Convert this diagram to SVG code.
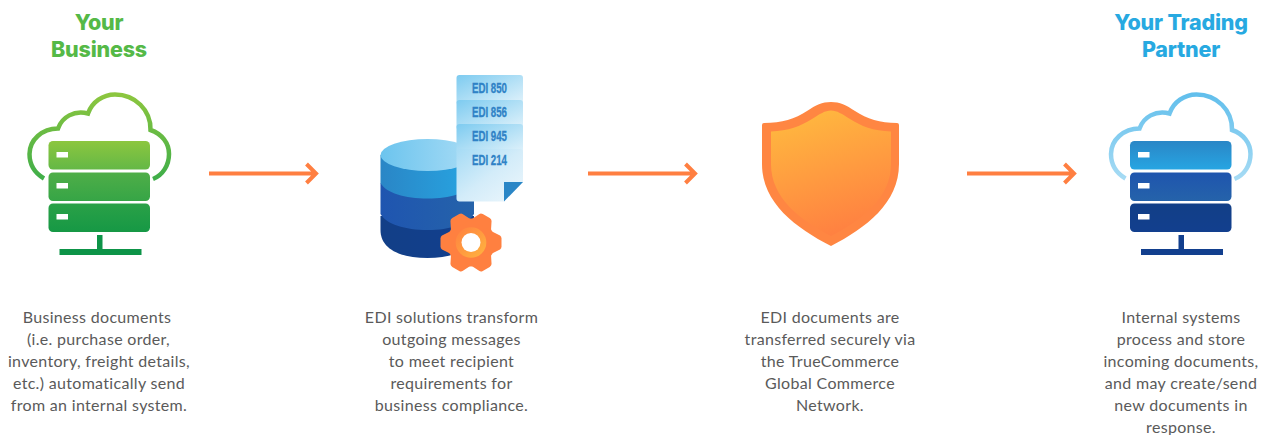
<svg xmlns="http://www.w3.org/2000/svg" width="1262" height="435" viewBox="0 0 1262 435">
<style>
.b{font-family:"Lato","Liberation Sans",sans-serif;font-size:16px;letter-spacing:.32px;fill:#5a5a5a;text-anchor:middle}
.h{font-family:"Inter","Lato",sans-serif;font-size:21.5px;font-weight:800;letter-spacing:-.2px;text-anchor:middle}
.e{font-family:"Liberation Sans","DejaVu Sans",sans-serif;font-size:14px;font-weight:700;fill:#2f82c6;stroke:#2f82c6;stroke-width:.3px;text-anchor:middle}
.a{fill:none;stroke:#ff7f41;stroke-width:4}
.w{fill:#fff}
.c{fill:none;stroke-width:4.5}
</style>
<defs>
<linearGradient id="gc" x1="0" y1="0" x2="0" y2="1"><stop offset="0" stop-color="#8cc63f"/><stop offset="1" stop-color="#3fae49"/></linearGradient>
<linearGradient id="g1" x1="0" y1="0" x2="0" y2="1"><stop offset="0" stop-color="#8cc63f"/><stop offset="1" stop-color="#64b846"/></linearGradient>
<linearGradient id="g2" x1="0" y1="0" x2="0" y2="1"><stop offset="0" stop-color="#4fae48"/><stop offset="1" stop-color="#36a546"/></linearGradient>
<linearGradient id="g3" x1="0" y1="0" x2="0" y2="1"><stop offset="0" stop-color="#2aa147"/><stop offset="1" stop-color="#169845"/></linearGradient>
<linearGradient id="bc" x1="0" y1="0" x2="0" y2="1"><stop offset="0" stop-color="#62bfec"/><stop offset="1" stop-color="#a6dbf4"/></linearGradient>
<linearGradient id="b1" x1="0" y1="0" x2="0" y2="1"><stop offset="0" stop-color="#2a86c6"/><stop offset="1" stop-color="#27a5e2"/></linearGradient>
<linearGradient id="b2" x1="0" y1="0" x2="0" y2="1"><stop offset="0" stop-color="#1f55ae"/><stop offset="1" stop-color="#2563aa"/></linearGradient>
<linearGradient id="b3" x1="0" y1="0" x2="0" y2="1"><stop offset="0" stop-color="#123f87"/><stop offset="1" stop-color="#123f8e"/></linearGradient>
<linearGradient id="d0" x1="0" y1="0" x2="1" y2="0"><stop offset="0" stop-color="#6cc4ee"/><stop offset="1" stop-color="#a8dcf5"/></linearGradient>
<linearGradient id="d1" x1="0" y1="0" x2="1" y2="0"><stop offset="0" stop-color="#2a86c6"/><stop offset="1" stop-color="#27a5e2"/></linearGradient>
<linearGradient id="d2" x1="0" y1="0" x2="1" y2="0"><stop offset="0" stop-color="#1f55b0"/><stop offset="1" stop-color="#2563aa"/></linearGradient>
<linearGradient id="d3" x1="0" y1="0" x2="1" y2="0"><stop offset="0" stop-color="#123f87"/><stop offset="1" stop-color="#123f8e"/></linearGradient>
<linearGradient id="p" x1="0" y1="0" x2="1" y2="1"><stop offset="0" stop-color="#a5dbf5"/><stop offset=".5" stop-color="#d3ecf9"/><stop offset="1" stop-color="#eef7fc"/></linearGradient>
<linearGradient id="pt" x1="0" y1="0" x2="1" y2="1"><stop offset="0" stop-color="#7dcbf0"/><stop offset="1" stop-color="#e3f3fb"/></linearGradient>
<linearGradient id="s" x1=".3" y1="0" x2=".6" y2="1"><stop offset="0" stop-color="#ffb83f"/><stop offset="1" stop-color="#ff7f41"/></linearGradient>
<linearGradient id="r" x1="0" y1="0" x2="1" y2="1"><stop offset="0" stop-color="#ff8040"/><stop offset="1" stop-color="#ffb53f"/></linearGradient>
<path id="cl" d="M44,178.500C33,172 29.500,162 29.500,154C29.500,140 42,128.500 58,128.500C62,117 74,110 88,113.500C92,102 103,94.500 115,94.500C135,94.500 151,110 150.500,130C162,134 169,143 169,154C169,165 163,175 153,179"/>
<path id="t" d="M20,-11.500L29,-7Q30.500,-6 30.500,-4V4Q30.500,6 29,7L20,11.500Z" fill="#ff8040"/>
</defs>

<g id="your-business">
<text class="h" x="99" y="30" fill="#55b947">Your</text>
<text class="h" x="99" y="57" fill="#55b947">Business</text>
<use href="#cl" class="c" stroke="url(#gc)"/>
<rect x="48.500" y="141" width="101.500" height="28.500" rx="4.500" fill="url(#g1)"/>
<rect x="48.500" y="172.500" width="101.500" height="28.500" rx="4.500" fill="url(#g2)"/>
<rect x="48.500" y="203.500" width="101.500" height="28.500" rx="4.500" fill="url(#g3)"/>
<rect class="w" x="56.500" y="152" width="11.500" height="5.500"/>
<rect class="w" x="56.500" y="183" width="11.500" height="5.500"/>
<rect class="w" x="56.500" y="214" width="11.500" height="5.500"/>
<path d="M97,235h5.500v14h39v6h-82v-6h37.500z" fill="#0d9448"/>
<text class="b" x="97" y="322.500">Business documents</text>
<text class="b" x="98.500" y="344.500">(i.e. purchase order,</text>
<text class="b" x="99" y="366.500">inventory, freight details,</text>
<text class="b" x="99" y="388.500">etc.) automatically send</text>
<text class="b" x="99" y="410.500">from an internal system.</text>
</g>

<g id="edi-solutions">
<path d="M380.500,216V230C380.500,249 400,258 427.500,258C455,258 474,249 474,230V216Z" fill="url(#d3)"/>
<path d="M380.500,183V214C386,224 405,230 427.500,230C450,230 468,224 474,214V183Z" fill="url(#d2)"/>
<path d="M380.500,155V183C386,193 405,198.500 427.500,198.500C450,198.500 468,193 474,183V155Z" fill="url(#d1)"/>
<ellipse cx="427.500" cy="155" rx="47" ry="16" fill="url(#d0)"/>
<rect x="456.500" y="75" width="66.500" height="30" rx="3" fill="url(#pt)"/>
<rect x="456.500" y="100" width="66.500" height="30" rx="3" fill="url(#pt)"/>
<rect x="456.500" y="124" width="66.500" height="30" rx="3" fill="url(#pt)"/>
<path d="M459.500,149H520a3,3 0 0 1 3,3V182L504,201.500H459.500a3,3 0 0 1 -3,-3V152a3,3 0 0 1 3,-3Z" fill="url(#p)"/>
<path d="M504,182H523L504,201.500Z" fill="#2a86c6"/>
<text class="e" x="489.500" y="93" textLength="35" lengthAdjust="spacingAndGlyphs">EDI 850</text>
<text class="e" x="489.500" y="117" textLength="35" lengthAdjust="spacingAndGlyphs">EDI 856</text>
<text class="e" x="489.500" y="141" textLength="35" lengthAdjust="spacingAndGlyphs">EDI 945</text>
<text class="e" x="489.500" y="165" textLength="35" lengthAdjust="spacingAndGlyphs">EDI 214</text>
<g transform="translate(471 242.500)">
<circle r="24" fill="#ff8040"/>
<use href="#t"/>
<use href="#t" transform="rotate(60)"/>
<use href="#t" transform="rotate(120)"/>
<use href="#t" transform="rotate(180)"/>
<use href="#t" transform="rotate(240)"/>
<use href="#t" transform="rotate(300)"/>
<circle r="15.300" fill="url(#r)"/>
<circle r="9.500" class="w"/>
</g>
<text class="b" x="451.500" y="322.500">EDI solutions transform</text>
<text class="b" x="451.500" y="344.500">outgoing messages</text>
<text class="b" x="451.500" y="366.500">to meet recipient</text>
<text class="b" x="451.500" y="388.500">requirements for</text>
<text class="b" x="451.500" y="410.500">business compliance.</text>
</g>

<g id="global-commerce-network">
<path d="M764,123C782,123 795,119 807,111C816,105 822,102 831,102C840,102 846,105 855,111C867,119 880,123 897,123Q899,123 899,125V164C899,203 866,228 831,246C796,228 762,203 762,164V125Q762,123 764,123Z" fill="#ff8642"/>
<path d="M771,131.500C788,131 801,126 812,119C820,114 825,110.500 831,110.500C837,110.500 842,114 850,119C861,126 873,131 891,131.500V164C891,198 862,220 831,236C800,220 771,198 771,164Z" fill="url(#s)"/>
<text class="b" x="830" y="322.500">EDI documents are</text>
<text class="b" x="830" y="344.500">transferred securely via</text>
<text class="b" x="830" y="366.500">the TrueCommerce</text>
<text class="b" x="830" y="388.500">Global Commerce</text>
<text class="b" x="830" y="410.500">Network.</text>
</g>

<g id="your-trading-partner">
<text class="h" x="1181" y="30" fill="#27a9e1">Your Trading</text>
<text class="h" x="1181" y="57" fill="#27a9e1">Partner</text>
<g transform="translate(1081.500 0)">
<use href="#cl" class="c" stroke="url(#bc)"/>
<rect x="48.500" y="141" width="101.500" height="28.500" rx="4.500" fill="url(#b1)"/>
<rect x="48.500" y="172.500" width="101.500" height="28.500" rx="4.500" fill="url(#b2)"/>
<rect x="48.500" y="203.500" width="101.500" height="28.500" rx="4.500" fill="url(#b3)"/>
<rect class="w" x="56.500" y="152" width="11.500" height="5.500"/>
<rect class="w" x="56.500" y="183" width="11.500" height="5.500"/>
<rect class="w" x="56.500" y="214" width="11.500" height="5.500"/>
<path d="M97,235h5.500v14h39v6h-82v-6h37.500z" fill="#123f8e"/>
</g>
<text class="b" x="1181" y="322.500">Internal systems</text>
<text class="b" x="1181" y="344.500">process and store</text>
<text class="b" x="1181" y="366.500">incoming documents,</text>
<text class="b" x="1181" y="388.500">and may create/send</text>
<text class="b" x="1181" y="410.500">new documents in</text>
<text class="b" x="1181" y="433">response.</text>
</g>

<g id="connectors">
<path class="a" d="M209,173.500H316M306.500,164L316,173.500L306.500,183"/>
<path class="a" d="M588,173.500H695M685.500,164L695,173.500L685.500,183"/>
<path class="a" d="M967,173.500H1074M1064.500,164L1074,173.500L1064.500,183"/>
</g>
</svg>
